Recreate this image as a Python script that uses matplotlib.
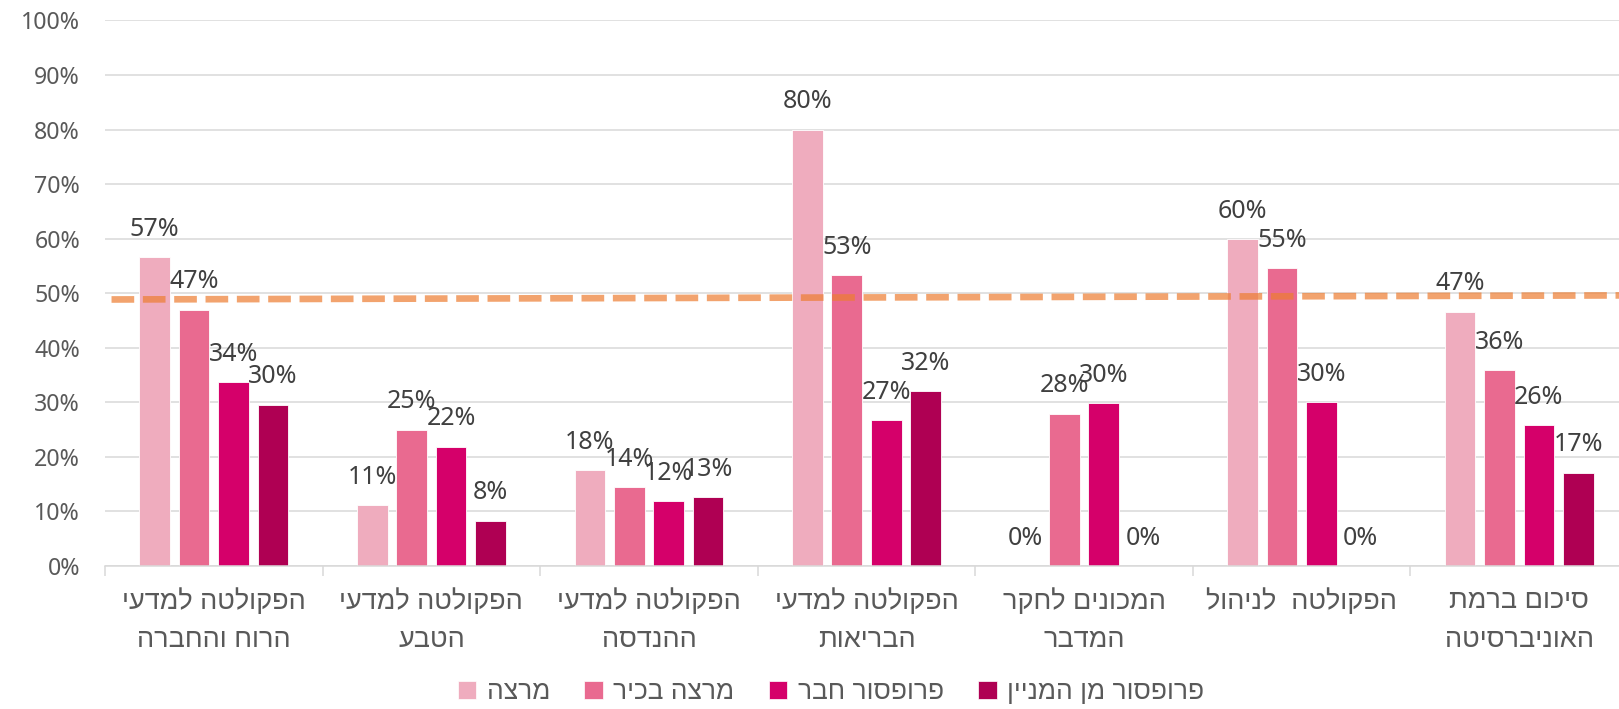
import numpy as np
import matplotlib
matplotlib.use("Agg")
import matplotlib.pyplot as plt
from matplotlib.patches import Patch

# ---------------- data ----------------
categories = [
    "הפקולטה למדעי\nהרוח והחברה",
    "הפקולטה למדעי\nהטבע",
    "הפקולטה למדעי\nההנדסה",
    "הפקולטה למדעי\nהבריאות",
    "המכונים לחקר\nהמדבר",
    "הפקולטה  לניהול",
    "סיכום ברמת\nהאוניברסיטה",
]
series_names = ["מרצה", "מרצה בכיר", "פרופסור חבר", "פרופסור מן המניין"]
lecturer        = [56.6, 11.2, 17.6, 80.0, 0.0, 59.9, 46.6]
senior_lecturer = [47.0, 25.0, 14.4, 53.3, 27.9, 54.6, 35.9]
assoc_prof      = [33.7, 21.9, 11.9, 26.8, 29.9, 30.0, 25.8]
full_prof       = [29.6, 8.3, 12.6, 32.0, 0.0, 0.0, 17.1]
trend_values = [48.85, 49.6]   # dashed reference line, start / end
yticks = [0, 10, 20, 30, 40, 50, 60, 70, 80, 90, 100]

colors = ["#EFACBE", "#E96A90", "#D5006A", "#AF0053"]


def heb(s):
    """matplotlib has no bidi: reverse each line for visual RTL order."""
    return "\n".join(line[::-1] for line in s.split("\n"))


num_font = ["Noto Sans", "DejaVu Sans"]
heb_font = ["Liberation Sans Narrow", "Liberation Sans", "DejaVu Sans"]

W, H = 1619, 709
fig = plt.figure(figsize=(W / 100, H / 100), dpi=100)
left, right, top, bottom = 105, 1628, 20.4, 566
ax = fig.add_axes([left / W, 1 - bottom / H, (right - left) / W, (bottom - top) / H])

x = np.arange(len(categories))
pitch, width = 0.181, 0.141
all_series = [lecturer, senior_lecturer, assoc_prof, full_prof]
for i, (vals, c) in enumerate(zip(all_series, colors)):
    xs = x + (i - 1.5) * pitch
    ax.bar(xs, vals, width=width, color=c, edgecolor="#ffffff", linewidth=0.6, zorder=2)
    for xi, v in zip(xs, vals):
        ax.annotate(f"{v:.0f}%", (xi, v), xytext=(0, 20), textcoords="offset points",
                    ha="center", va="center", fontsize=18, color="#404040",
                    family=num_font, zorder=4)

ax.plot([-0.47, 6.5], trend_values, color="#ED7D31", alpha=0.7, lw=4.8,
        linestyle=(0, (3.4, 1.3)), solid_capstyle="butt", dash_capstyle="butt",
        zorder=3, clip_on=False)

ax.set_xlim(-0.5, 6.5)
ax.set_ylim(0, 100)
ax.set_yticks(yticks)
ax.set_yticklabels([f"{t}%" for t in yticks], family=num_font, fontsize=16.7, color="#595959")
ax.tick_params(axis="y", length=0, pad=18)
ax.yaxis.grid(True, color="#D9D9D9", lw=1.1, zorder=0)
ax.set_axisbelow(True)

ax.set_xticks(np.arange(-0.5, 7, 1))
ax.set_xticklabels([])
ax.tick_params(axis="x", which="major", length=7, color="#D9D9D9", width=1.1)
ax.set_xticks(x, minor=True)
ax.set_xticklabels([heb(c) for c in categories], minor=True, family=heb_font,
                   fontsize=19.5, color="#595959", linespacing=1.62)
ax.tick_params(axis="x", which="minor", length=0, pad=16)

for s in ["left", "right", "top"]:
    ax.spines[s].set_visible(False)
ax.spines["bottom"].set_color("#D9D9D9")
ax.spines["bottom"].set_linewidth(1.1)

handles = [Patch(facecolor=c, edgecolor="#ffffff", linewidth=0.5) for c in colors]
leg = fig.legend(handles, [heb(n) for n in series_names], loc="center",
                 bbox_to_anchor=(831 / W, 1 - 692 / H), ncol=4, frameon=False,
                 prop={"family": heb_font, "size": 19}, handlelength=0.7,
                 handleheight=0.7, handletextpad=0.4, columnspacing=1.3,
                 labelcolor="#595959")

fig.savefig("out.png", dpi=100)
